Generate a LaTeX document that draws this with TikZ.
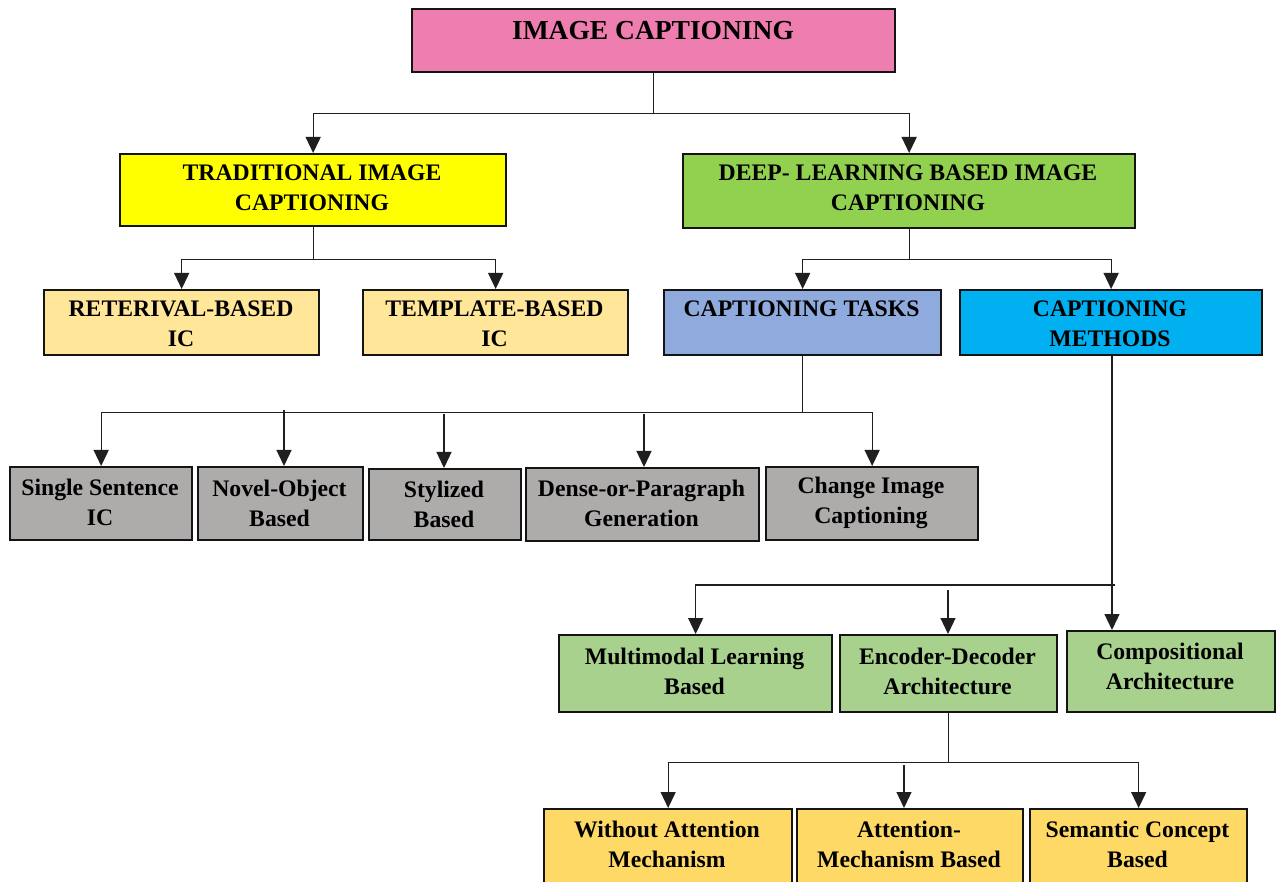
\documentclass[tikz,border=0pt]{standalone}
\usepackage{fontspec}
\setmainfont{Liberation Serif}
\usetikzlibrary{arrows.meta}

\definecolor{cRoot}{HTML}{EE7EAF}
\definecolor{cTrad}{HTML}{FFFF00}
\definecolor{cDeep}{HTML}{92D050}
\definecolor{cPale}{HTML}{FFE699}
\definecolor{cTask}{HTML}{8FAADC}
\definecolor{cMeth}{HTML}{00B0F0}
\definecolor{cGray}{HTML}{AEABAB}
\definecolor{cLeaf}{HTML}{A9D18E}
\definecolor{cGold}{HTML}{FFD966}

\tikzset{
  box/.style={draw=black!92, line width=2.3pt, anchor=north west, inner sep=0pt},
  lbl/.style={align=center, inner sep=0pt, text=black,
    font=\fontsize{23.7}{30}\selectfont\bfseries},
  link/.style={draw=black!88, line width=1.3pt},
  arr/.style={link, -{Triangle[width=15pt,length=16pt]}},
}

\begin{document}
\begin{tikzpicture}[x=1pt,y=-1pt]
\clip (0,0) rectangle (1283,882);
\fill[white] (0,0) rectangle (1283,882);

% ---- root ----
\node[box, fill=cRoot, minimum width=483pt, minimum height=63pt] (root) at (411,8) {};
\node[lbl, font=\fontsize{27.5}{32}\selectfont\bfseries] (root-t) at (653,31) {IMAGE CAPTIONING};

% ---- second level ----
\node[box, fill=cTrad, minimum width=386pt, minimum height=72pt] (trad) at (119,153) {};
\node[lbl] (trad-t) at (312,188) {TRADITIONAL IMAGE\\CAPTIONING};
\node[box, fill=cDeep, minimum width=452pt, minimum height=74pt] (deep) at (682,153) {};
\node[lbl] (deep-t) at (908,188) {DEEP- LEARNING BASED IMAGE\\CAPTIONING};

% ---- third level ----
\node[box, fill=cPale, minimum width=275pt, minimum height=65pt] (ret) at (43,289) {};
\node[lbl] (ret-t) at (181,324) {RETERIVAL-BASED\\IC};
\node[box, fill=cPale, minimum width=265pt, minimum height=65pt] (tmpl) at (362,289) {};
\node[lbl] (tmpl-t) at (494.5,324) {TEMPLATE-BASED\\IC};
\node[box, fill=cTask, minimum width=277pt, minimum height=65pt] (tasks) at (663,289) {};
\node[lbl] (tasks-t) at (801.5,309) {CAPTIONING TASKS};
\node[box, fill=cMeth, minimum width=302pt, minimum height=65pt] (methods) at (959,289) {};
\node[lbl] (methods-t) at (1110,323.5) {CAPTIONING\\METHODS};

% ---- captioning tasks ----
\node[box, fill=cGray, minimum width=182pt, minimum height=73pt] (single) at (9,466) {};
\node[lbl] (single-t) at (100,502.5) {Single Sentence\\IC};
\node[box, fill=cGray, minimum width=165pt, minimum height=73pt] (novel) at (197,466) {};
\node[lbl] (novel-t) at (279.5,503) {Novel-Object\\Based};
\node[box, fill=cGray, minimum width=152pt, minimum height=71pt] (stylized) at (368,468) {};
\node[lbl] (stylized-t) at (444,504.5) {Stylized\\Based};
\node[box, fill=cGray, minimum width=233pt, minimum height=73pt] (dense) at (525,467) {};
\node[lbl] (dense-t) at (641.5,503) {Dense-or-Paragraph\\Generation};
\node[box, fill=cGray, minimum width=212pt, minimum height=73pt] (change) at (765,466) {};
\node[lbl] (change-t) at (871,503) {Change Image\\Captioning};

% ---- captioning methods ----
\node[box, fill=cLeaf, minimum width=273pt, minimum height=77pt] (multi) at (558,634) {};
\node[lbl] (multi-t) at (694.5,671) {Multimodal Learning\\Based};
\node[box, fill=cLeaf, minimum width=217pt, minimum height=77pt] (enc) at (839,634) {};
\node[lbl] (enc-t) at (947.5,671) {Encoder-Decoder\\Architecture};
\node[box, fill=cLeaf, minimum width=208pt, minimum height=81pt] (comp) at (1066,630) {};
\node[lbl] (comp-t) at (1170,666) {Compositional\\Architecture};

% ---- encoder-decoder variants ----
\node[box, fill=cGold, minimum width=248pt, minimum height=74pt] (wo) at (543,808) {};
\node[lbl] (wo-t) at (667,844) {Without Attention\\Mechanism};
\node[box, fill=cGold, minimum width=226pt, minimum height=74pt] (att) at (796,808) {};
\node[lbl] (att-t) at (909,844) {Attention-\\Mechanism Based};
\node[box, fill=cGold, minimum width=217pt, minimum height=74pt] (sem) at (1029,808) {};
\node[lbl] (sem-t) at (1137.5,844) {Semantic Concept\\Based};

% ---- connectors ----
\path (root.south) ++(0,40) coordinate (j1);
\draw[arr] (root.south) -- (j1) -| (trad.north);
\draw[arr] (j1) -| (deep.north);

\path (trad.south) ++(0,32) coordinate (j2);
\draw[arr] (trad.south) -- (j2) -| (ret.north);
\draw[arr] (j2) -| (tmpl.north);

\path (deep.south) ++(0,30) coordinate (j3);
\draw[arr] (deep.south) -- (j3) -| (tasks.north);
\draw[arr] (j3) -| (methods.north);

\path (tasks.south) ++(0,56) coordinate (j4);
\draw[arr] (tasks.south) -- (j4) -| (single.north);
\draw[arr] (j4) -| (change.north);
\coordinate (nv-top) at (284,410);
\draw[arr] (nv-top) -- (nv-top |- novel.north);
\coordinate (st-top) at (444,414);
\draw[arr] (st-top) -- (st-top |- stylized.north);
\coordinate (dn-top) at (644,414);
\draw[arr] (dn-top) -- (dn-top |- dense.north);

\coordinate (m-x) at (1112,585);
\coordinate (m-end) at (1115,585);
\draw[arr] (m-x |- methods.south) -- (m-x |- comp.north);
\draw[arr] (m-end) -| (multi.north);
\coordinate (en-top) at (948,590);
\draw[arr] (en-top) -- (en-top |- enc.north);

\path (enc.south) ++(0,49) coordinate (j6);
\draw[arr] (enc.south) -- (j6) -| (wo.north);
\draw[arr] (j6) -| (sem.north);
\coordinate (at-top) at (904,765);
\draw[arr] (at-top) -- (at-top |- att.north);
\end{tikzpicture}
\end{document}
